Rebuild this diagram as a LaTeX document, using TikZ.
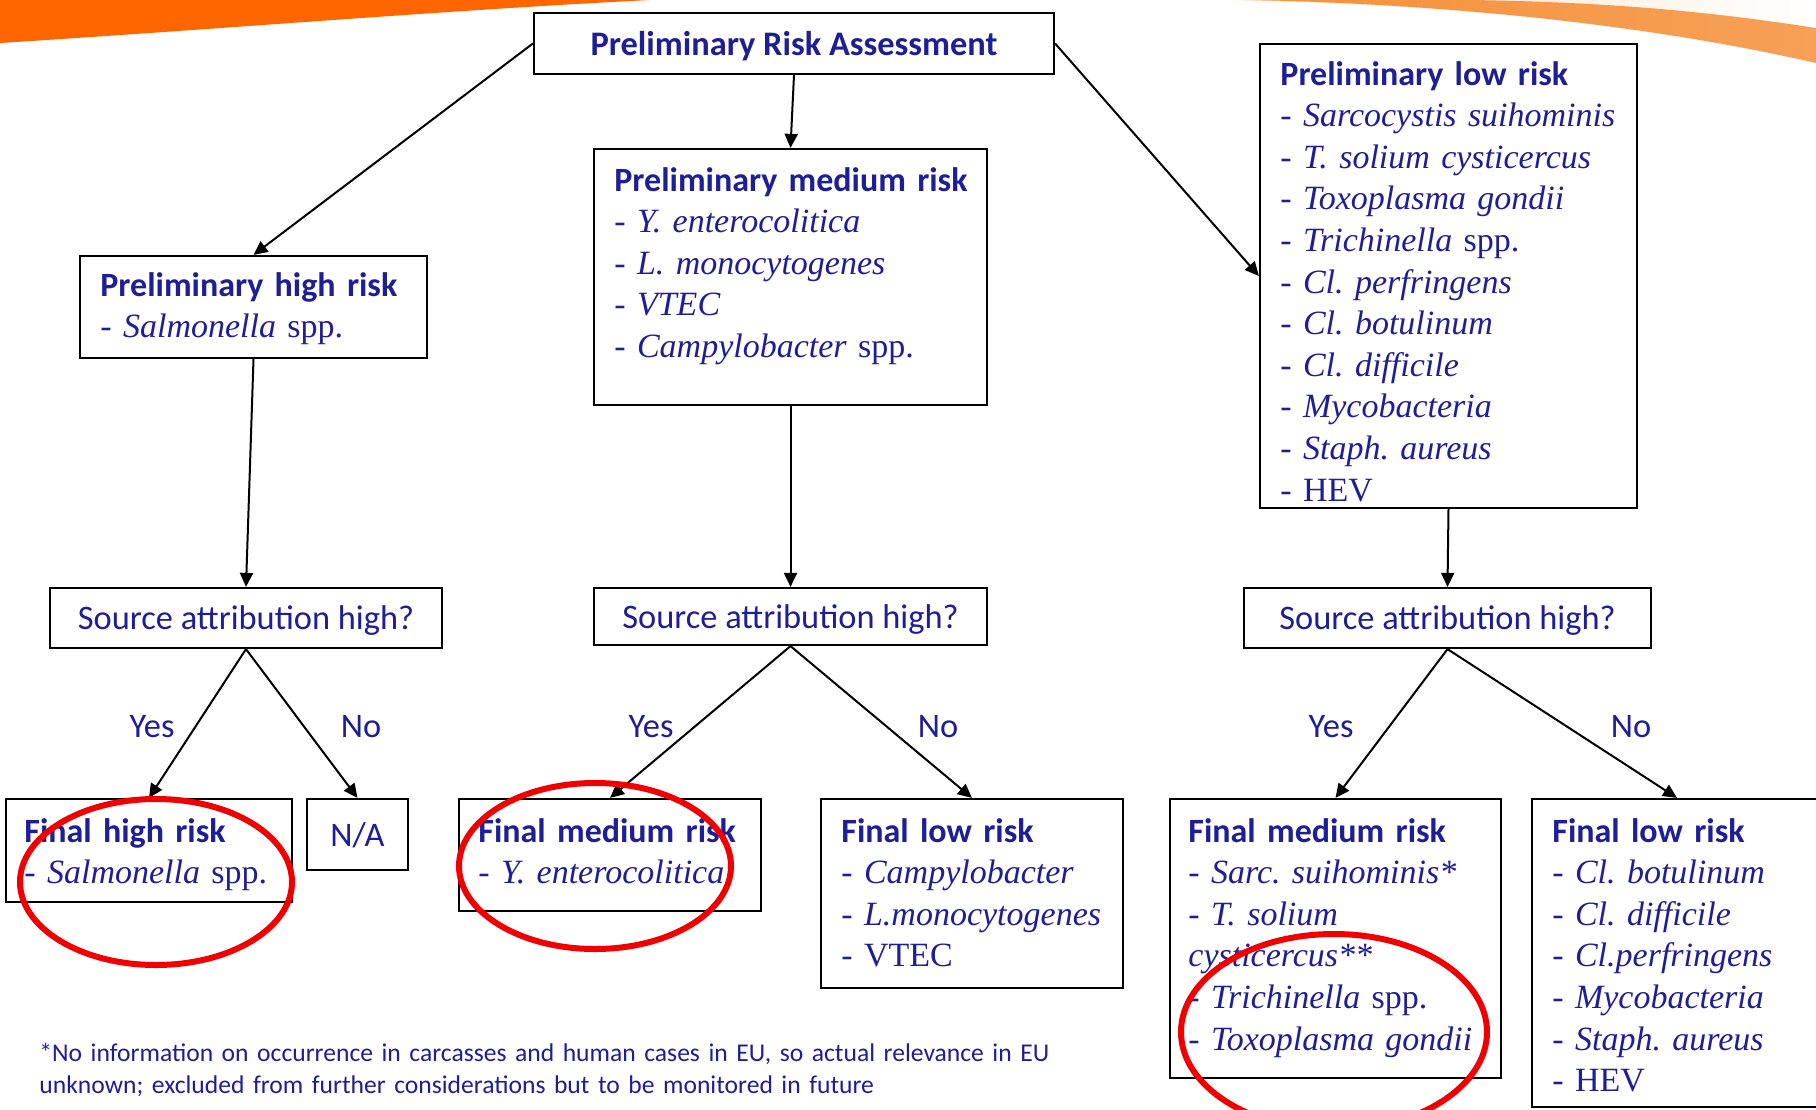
\documentclass[tikz,border=0pt]{standalone}
\usepackage{fontspec}
\setmainfont{Liberation Serif}
\newfontfamily\calibri{Carlito}
\usepackage{tikz}
\usetikzlibrary{arrows.meta, positioning, fit}
\frenchspacing

\definecolor{navy}{RGB}{30,30,150}
\definecolor{ringred}{RGB}{240,0,0}
\definecolor{bandorange}{RGB}{255,102,0}
\definecolor{bandlight}{RGB}{245,145,60}
\definecolor{peach}{RGB}{253,222,190}

\newcommand{\hd}[1]{{\calibri\bfseries #1}}

\tikzset{
    box/.style={draw, line width=1.1pt, inner sep=0pt},
    txt/.style={text=navy, text depth=0pt, font=\calibri\fontsize{17.2}{20.8}\selectfont},
    list/.style={anchor=base west, text=navy, align=left, text width=200pt,
                 inner sep=0pt, font=\fontsize{17}{20.8}\selectfont},
    arr/.style={-{Triangle[length=7pt,width=6.5pt]}, line width=1pt},
    ring/.style={draw=ringred, line width=3pt},
}

\begin{document}
\begin{tikzpicture}[x=0.5pt, y=-0.5pt]
    \useasboundingbox (0,0) rectangle (1816,1109);
    \clip (0,0) rectangle (1816,1109);
    \fill[white] (0,0) rectangle (1816,1109);

    % orange band at the top
    \fill[bandorange] (0,0) -- (0,43) .. controls (250,27) and (450,10) .. (650,0) -- cycle;
    \shade[left color=peach, right color=white] (1230,0) -- (1816,0) -- (1816,63)
        .. controls (1650,25) and (1450,4) .. (1230,0) -- cycle;
    \shade[left color=bandlight, right color=bandlight!80!peach]
        (1250,0) .. controls (1450,4) and (1650,25) .. (1816,63)
        -- (1816,28) .. controls (1700,10) and (1600,2) .. (1470,0) -- cycle;

    % boxes
    \node[box, txt, minimum width=260pt, minimum height=30.5pt] (pra) at (794,43.5)
        {\bfseries Preliminary Risk Assessment};
    \node[box, fit={(80,256) (427,358)}] (ph) {};
    \node[box, fit={(594,149) (987,405)}] (pm) {};
    \node[box, fit={(1260,44) (1637,508)}] (pl) {};

    \node[list] (phtxt) at (100,296) {\hd{Preliminary high risk}\\
        - \textit{Salmonella} spp.};
    \node[list] (pmtxt) at (614,191) {\hd{Preliminary medium risk}\\
        - \textit{Y. enterocolitica}\\
        - \textit{L. monocytogenes}\\
        - \textit{VTEC}\\
        - \textit{Campylobacter} spp.};
    \node[list] (pltxt) at (1280,85) {\hd{Preliminary low risk}\\
        - \textit{Sarcocystis suihominis}\\
        - \textit{T. solium cysticercus}\\
        - \textit{Toxoplasma gondii}\\
        - \textit{Trichinella} spp.\\
        - \textit{Cl. perfringens}\\
        - \textit{Cl. botulinum}\\
        - \textit{Cl. difficile}\\
        - \textit{Mycobacteria}\\
        - \textit{Staph. aureus}\\
        - HEV};

    \node[box, txt, minimum width=196pt, minimum height=30pt] (src1) at (246,618)
        {Source attribution high?};
    \node[box, txt, minimum width=196.5pt, minimum height=28.5pt] (src2) at (790.5,616.5)
        {Source attribution high?};
    \node[box, txt, minimum width=203.5pt, minimum height=30pt] (src3) at (1447.5,618)
        {Source attribution high?};

    \node[box, fit={(6,799) (292,902)}] (fh) {};
    \node[box, txt, minimum width=50.5pt, minimum height=35.5pt] (na) at (357.5,834.5) {N/A};
    \node[box, fit={(459,799) (761,911)}] (fm1) {};
    \node[box, fit={(821,799) (1123,988)}] (fl1) {};
    \node[box, fit={(1170,799) (1501,1078)}] (fm2) {};
    \node[box, fit={(1532,799) (1822,1107)}] (fl2) {};

    \node[list] (fhtxt) at (24,842) {\hd{Final high risk}\\
        - \textit{Salmonella} spp.};
    \node[list] (fm1txt) at (478,842) {\hd{Final medium risk}\\
        - \textit{Y. enterocolitica}};
    \node[list] (fl1txt) at (841,842) {\hd{Final low risk}\\
        - \textit{Campylobacter}\\
        - \textit{L.monocytogenes}\\
        - VTEC};
    \node[list] (fm2txt) at (1188,842) {\hd{Final medium risk}\\
        - \textit{Sarc. suihominis*}\\
        - \textit{T. solium}\\
        \textit{cysticercus**}\\
        - \textit{Trichinella} spp.\\
        - \textit{Toxoplasma gondii}};
    \node[list] (fl2txt) at (1552,842) {\hd{Final low risk}\\
        - \textit{Cl. botulinum}\\
        - \textit{Cl. difficile}\\
        - \textit{Cl.perfringens}\\
        - \textit{Mycobacteria}\\
        - \textit{Staph. aureus}\\
        - HEV};

    % connectors
    \path[arr]
    (pra.west)  edge (ph.north)
    (pra.south) edge (pm.north)
    (pra.east)  edge (pl.west)
    (ph.south)  edge (src1.north)
    (pm.south)  edge (src2.north)
    (pl.south)  edge (src3.north)
    (src1.south) edge (fh.north)
                 edge (na.north)
    (src2.south) edge (fm1.north)
                 edge (fl1.north)
    (src3.south) edge (fm2.north)
                 edge (fl2.north);

    \node[txt] (yes1) at (152,726) {Yes};
    \node[txt] (no1)  at (361,726) {No};
    \node[txt] (yes2) at (651,726) {Yes};
    \node[txt] (no2)  at (938,726) {No};
    \node[txt] (yes3) at (1331,726) {Yes};
    \node[txt] (no3)  at (1631,726) {No};

    % footnote
    \node[anchor=base west, text=navy, align=left, text width=600pt, inner sep=0pt,
          font=\calibri\fontsize{12.8}{16}\selectfont] (note) at (39,1061)
        {*No information on occurrence in carcasses and human cases in EU, so actual relevance in EU\\
         unknown; excluded from further considerations but to be monitored in future};

    % red rings
    \draw[ring] (156,882) ellipse [x radius=136, y radius=83];
    \draw[ring] (595,866) ellipse [x radius=136, y radius=83];
    \draw[ring] (1334,1032) ellipse [x radius=153, y radius=98];
\end{tikzpicture}
\end{document}
